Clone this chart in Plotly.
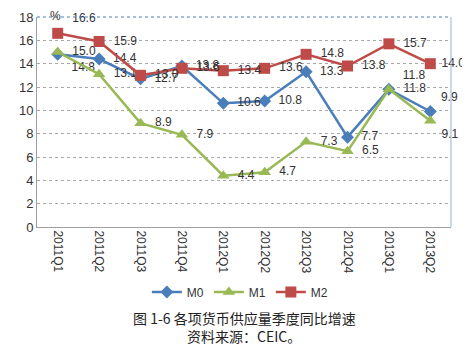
import plotly.graph_objects as go

categories = ["2011Q1","2011Q2","2011Q3","2011Q4","2012Q1","2012Q2","2012Q3","2012Q4","2013Q1","2013Q2"]
m0 = [14.8, 14.4, 12.7, 13.8, 10.6, 10.8, 13.3, 7.7, 11.8, 9.9]
m1 = [15.0, 13.1, 8.9, 7.9, 4.4, 4.7, 7.3, 6.5, 11.8, 9.1]
m2 = [16.6, 15.9, 13.0, 13.6, 13.4, 13.6, 14.8, 13.8, 15.7, 14.0]
yticks = [0, 2, 4, 6, 8, 10, 12, 14, 16, 18]

pos_m0 = ["bottom right"] + ["middle right"]*7 + ["top right", "top right"]
pos_m1 = ["middle right"]*9 + ["bottom right"]
pos_m2 = ["top right"] + ["middle right"]*9
# label padding (last column has less room at the right edge)
pads = ["\u00a0\u00a0"]*9 + ["\u00a0"]

font = "Liberation Sans, Arial, sans-serif"
fig = go.Figure()
def add(name, vals, color, symbol, size, pos):
    fig.add_trace(go.Scatter(
        x=categories, y=vals, name=name, mode="lines+markers+text",
        line=dict(color=color, width=2.5),
        marker=dict(symbol=symbol, size=size, color=color),
        text=[p + f"{v:.1f}" for p, v in zip(pads, vals)], textposition=pos,
        textfont=dict(size=12, color="#333333", family=font),
        cliponaxis=False,
    ))
add("M0", m0, "#4A7EBB", "diamond", 10, pos_m0)
add("M1", m1, "#98B954", "triangle-up", 11, pos_m1)
add("M2", m2, "#BE4B48", "square", 11, pos_m2)

# page body has an 8px margin, so the figure is drawn smaller to fit the window
fig.update_layout(
    width=462, height=345,
    margin=dict(l=29, r=19, t=9, b=126),
    paper_bgcolor="white", plot_bgcolor="white",
    font=dict(family=font, size=12, color="#333333"),
    showlegend=True,
    legend=dict(orientation="h", x=0.49, xanchor="center", y=-0.31, yanchor="middle",
                font=dict(size=12, family=font), itemwidth=30, tracegroupgap=0),
    xaxis=dict(type="category", tickangle=90, showgrid=False, showline=True,
               linecolor="#A0A0A0", linewidth=1, ticks="", tickfont=dict(size=12),
               range=[-0.5, 9.5], automargin=False),
    yaxis=dict(range=[0, 18], tickvals=yticks, showgrid=True, gridcolor="#A8A8A8",
               griddash="dot", gridwidth=1, showline=True, linecolor="#A0A0A0",
               linewidth=1, ticks="", zeroline=False, tickfont=dict(size=13),
               automargin=False),
    shapes=[
        dict(type="line", xref="paper", yref="paper", x0=0, x1=1, y0=1, y1=1,
             line=dict(color="#4A7EBB", width=1, dash="dot")),
        dict(type="line", xref="paper", yref="paper", x0=1, x1=1, y0=0, y1=1,
             line=dict(color="#95B3D7", width=1)),
    ],
    annotations=[
        dict(text="%", xref="paper", yref="paper", x=0.027, y=1.048, showarrow=False,
             font=dict(size=12)),
        dict(text="图 1-6 各项货币供应量季度同比增速", xref="paper", yref="paper",
             x=0.50, y=-0.49, showarrow=False,
             font=dict(size=14, family="Noto Sans CJK SC", color="#222222")),
        dict(text="资料来源：CEIC。", xref="paper", yref="paper",
             x=0.50, y=-0.576, showarrow=False,
             font=dict(size=14, family="Noto Sans CJK SC", color="#222222")),
    ],
)
fig.write_html("out.html")
